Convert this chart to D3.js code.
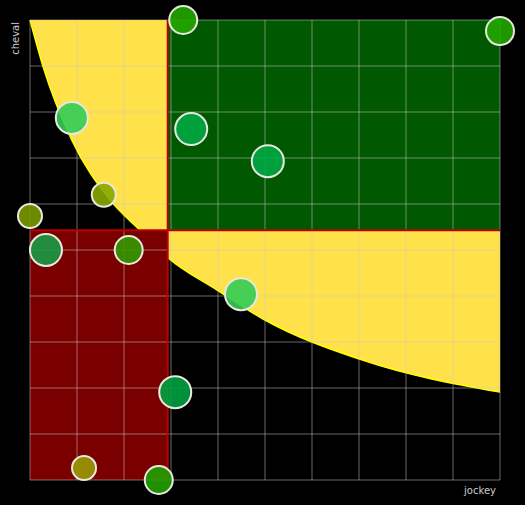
<!DOCTYPE html>
<html>
<head>
<meta charset="utf-8">
<script src="https://cdn.jsdelivr.net/npm/d3@7"></script>
<style>
body { margin: 0; background: #000; }
text { font-family: "DejaVu Sans", sans-serif; font-size: 10px; fill: #ccc; }
</style>
</head>
<body>
<script>
// threshold curve (jockey, cheval)
var curveX = [0, 0.28, 0.89, 1.7, 2.34, 2.94, 3.98, 4.96, 7.09, 10];
var curveY = [10, 8.98, 7.39, 6.09, 5.43, 4.83, 4.13, 3.5, 2.6, 1.91];
// thresholds
var xCut = 2.93, yCut = 5.43;
// points
var jockey = [3.26, 10, 0.89, 3.43, 5.06, 1.57, 0, 0.34, 2.1, 4.49, 3.09, 1.15, 2.74];
var cheval = [10, 9.76, 7.87, 7.63, 6.93, 6.2, 5.74, 5.0, 5.0, 4.04, 1.91, 0.26, 0];
var sizes  = [14, 14, 16, 16, 16, 12, 12, 16, 14, 16, 16, 12, 14];
var colors = ["#22a800", "#22a800", "#33cc55", "#00aa44", "#00aa44", "#88a800", "#7a9a00",
              "#1a9a44", "#339900", "#33cc55", "#00a040", "#999900", "#22a000"];

var width = 525, height = 505;
var margin = {left: 30, right: 25, top: 20, bottom: 25};
var x = d3.scaleLinear().domain([0, 10]).range([margin.left, width - margin.right]);
var y = d3.scaleLinear().domain([0, 10]).range([height - margin.bottom, margin.top]);

var svg = d3.select("body").append("svg").attr("width", width).attr("height", height);

var pts = curveX.map(function(v, i) { return [v, curveY[i]]; });
var line = d3.line().x(function(d) { return x(d[0]); }).y(function(d) { return y(d[1]); })
    .curve(d3.curveMonotoneX);
// yellow area above the curve
var area = d3.area().x(function(d) { return x(d[0]); }).y0(y(10))
    .y1(function(d) { return y(d[1]); }).curve(d3.curveMonotoneX);
svg.append("path").attr("d", area(pts)).attr("fill", "#ffe24a");
svg.append("path").attr("d", line(pts)).attr("fill", "none").attr("stroke", "#ffff00").attr("stroke-width", 1.5);

svg.append("rect").attr("x", x(0)).attr("y", y(yCut))
    .attr("width", x(xCut) - x(0)).attr("height", y(0) - y(yCut)).attr("fill", "#7a0000");
svg.append("rect").attr("x", x(xCut)).attr("y", y(10))
    .attr("width", x(10) - x(xCut)).attr("height", y(yCut) - y(10)).attr("fill", "#005800");

// grid
var g = svg.append("g").attr("stroke", "rgba(200,200,200,0.35)").attr("stroke-width", 1.5);
g.selectAll(".v").data(d3.range(0, 11)).join("line")
    .attr("x1", function(d) { return x(d); }).attr("x2", function(d) { return x(d); })
    .attr("y1", y(0)).attr("y2", y(10));
g.selectAll(".h").data(d3.range(0, 11)).join("line")
    .attr("y1", function(d) { return y(d); }).attr("y2", function(d) { return y(d); })
    .attr("x1", x(0)).attr("x2", x(10));

// threshold lines
svg.append("line").attr("x1", x(xCut)).attr("x2", x(xCut)).attr("y1", y(0)).attr("y2", y(10))
    .attr("stroke", "#bb0000").attr("stroke-width", 2);
svg.append("line").attr("x1", x(0)).attr("x2", x(10)).attr("y1", y(yCut)).attr("y2", y(yCut))
    .attr("stroke", "#bb0000").attr("stroke-width", 2);

svg.selectAll("circle").data(jockey).join("circle")
    .attr("cx", function(d) { return x(d); })
    .attr("cy", function(d, i) { return y(cheval[i]); })
    .attr("r", function(d, i) { return sizes[i]; })
    .attr("fill", function(d, i) { return colors[i]; })
    .attr("fill-opacity", 0.9)
    .attr("stroke", "#e8e8e0").attr("stroke-width", 2);

svg.append("text").attr("x", x(10) - 4).attr("y", height - 11).attr("text-anchor", "end").text("jockey");
svg.append("text").attr("transform", "translate(19," + (margin.top + 2) + ") rotate(-90)")
    .attr("text-anchor", "end").text("cheval");
</script>
</body>
</html>
